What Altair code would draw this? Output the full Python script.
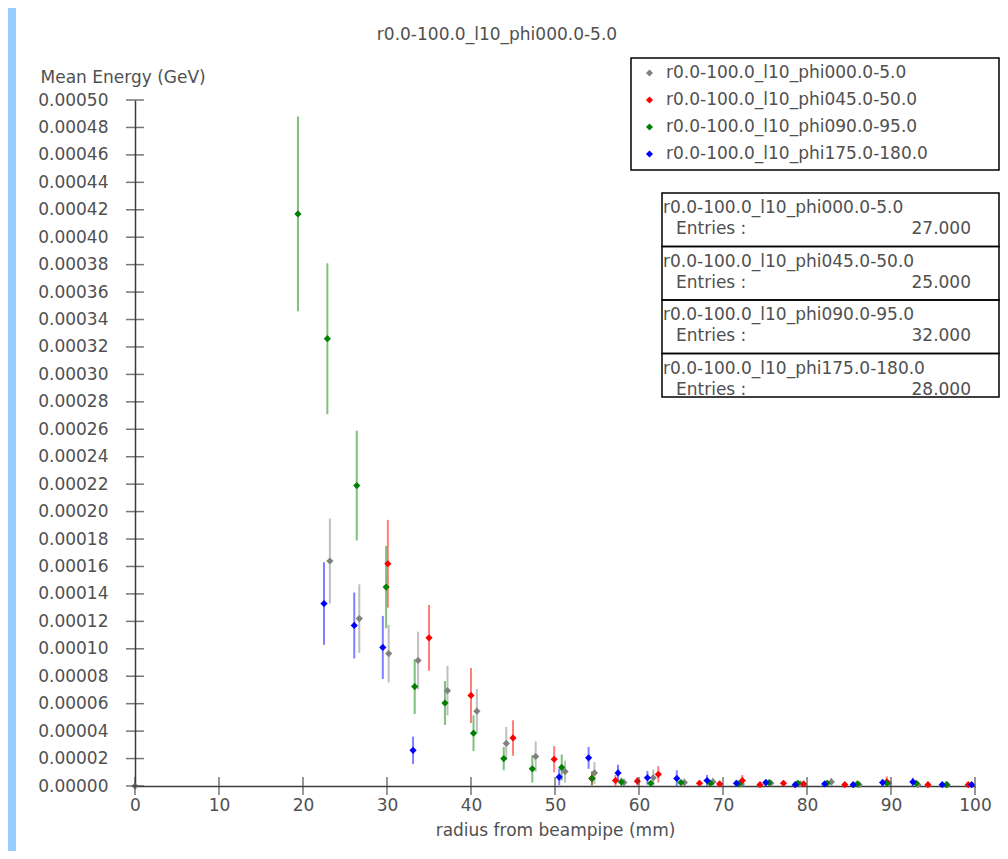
import altair as alt
import pandas as pd

# ---------------- data ----------------
series_names = [
    "r0.0-100.0_l10_phi000.0-5.0",
    "r0.0-100.0_l10_phi045.0-50.0",
    "r0.0-100.0_l10_phi090.0-95.0",
    "r0.0-100.0_l10_phi175.0-180.0",
]
series_colors = ["#808080", "#ff0000", "#008000", "#0000ff"]
entries = [27.0, 25.0, 32.0, 28.0]
chart_title = "r0.0-100.0_l10_phi000.0-5.0"
x_title = "radius from beampipe (mm)"
y_title = "Mean Energy (GeV)"

gray_r = [0.0, 23.2, 26.7, 30.2, 33.7, 37.2, 40.7, 44.2, 47.7, 51.2, 54.7, 58.2, 61.7,
          65.4, 68.8, 72.2, 75.7, 79.2, 82.9, 86.2, 89.7, 93.2, 96.7]
gray_mean = [0.0, 0.000164, 0.000122, 0.0000965, 0.0000915, 0.0000695, 0.0000545, 0.000031,
             0.0000215, 0.0000105, 0.0000095, 0.0000025, 0.0000060, 0.0000025, 0.000003,
             0.0000015, 0.000002, 0.0000015, 0.000003, 0.000001, 0.000002, 0.000001, 0.000001]
gray_err = [0.0, 0.000031, 0.000025, 0.000021, 0.000021, 0.000018, 0.000016, 0.000012,
            0.000011, 0.000008, 0.000008, 0.000003, 0.000006, 0.000003, 0.000003,
            0.000002, 0.000002, 0.000002, 0.000003, 0.000001, 0.000002, 0.000001, 0.000001]

red_r = [30.1, 35.0, 40.0, 45.0, 49.9, 54.4, 57.2, 59.8, 62.3, 67.2, 69.6, 72.3, 74.4,
         77.2, 79.6, 84.5, 89.5, 94.4, 99.2]
red_mean = [0.000162, 0.000108, 0.000066, 0.000035, 0.0000195, 0.0000055, 0.000004,
            0.0000035, 0.0000085, 0.000002, 0.0000015, 0.000004, 0.000001, 0.000002,
            0.0000015, 0.000001, 0.000003, 0.000001, 0.000001]
red_err = [0.000032, 0.000024, 0.00002, 0.000013, 0.0000095, 0.000005, 0.000004,
           0.000003, 0.000006, 0.000002, 0.0000015, 0.000004, 0.000001, 0.000002,
           0.0000015, 0.000001, 0.000004, 0.000001, 0.000001]

green_r = [19.4, 22.9, 26.4, 29.9, 33.3, 36.9, 40.3, 43.9, 47.3, 50.8, 54.4, 57.9, 61.4,
           65.0, 68.5, 71.9, 75.5, 78.9, 82.4, 86.0, 89.5, 93.0, 96.6]
green_mean = [0.000417, 0.000326, 0.000219, 0.000145, 0.0000725, 0.0000605, 0.0000385,
              0.000020, 0.0000125, 0.0000135, 0.0000055, 0.000003, 0.000002, 0.0000025,
              0.000002, 0.0000015, 0.0000025, 0.000002, 0.000002, 0.0000015, 0.000002,
              0.000002, 0.000001]
green_err = [0.000071, 0.000055, 0.00004, 0.00003, 0.00002, 0.000016, 0.000013,
             0.0000085, 0.00001, 0.0000095, 0.000005, 0.000003, 0.000002, 0.000002,
             0.000002, 0.0000015, 0.000002, 0.000002, 0.000002, 0.0000015, 0.000002,
             0.000002, 0.000001]

blue_r = [22.5, 26.1, 29.5, 33.1, 50.5, 54.0, 57.5, 61.0, 64.5, 68.1, 71.6, 75.1, 78.6,
          82.1, 85.5, 89.0, 92.6, 96.1, 99.6]
blue_mean = [0.000133, 0.000117, 0.000101, 0.000026, 0.0000065, 0.0000205, 0.0000095,
             0.000006, 0.0000055, 0.000004, 0.000002, 0.0000025, 0.000001, 0.0000015,
             0.000001, 0.0000025, 0.000003, 0.000001, 0.000001]
blue_err = [0.00003, 0.000024, 0.000023, 0.00001, 0.000006, 0.000008, 0.000006,
            0.000005, 0.000006, 0.000004, 0.000002, 0.0000025, 0.000001, 0.0000015,
            0.000001, 0.0000025, 0.000003, 0.000001, 0.000001]

x_tick_values = [0, 10, 20, 30, 40, 50, 60, 70, 80, 90, 100]
y_tick_values = [0.0, 0.00002, 0.00004, 0.00006, 0.00008, 0.00010, 0.00012, 0.00014,
                 0.00016, 0.00018, 0.00020, 0.00022, 0.00024, 0.00026, 0.00028, 0.00030,
                 0.00032, 0.00034, 0.00036, 0.00038, 0.00040, 0.00042, 0.00044, 0.00046,
                 0.00048, 0.00050]

# ---------------- table ----------------
rows = []
for name, rs, ms, es in zip(series_names,
                            [gray_r, red_r, green_r, blue_r],
                            [gray_mean, red_mean, green_mean, blue_mean],
                            [gray_err, red_err, green_err, blue_err]):
    for r, m, e in zip(rs, ms, es):
        rows.append({"series": name, "r": r, "mean": m,
                     "lo": max(0.0, m - e), "hi": m + e})
df = pd.DataFrame(rows)

TXT = "#505050"
AX = "#3c3c3c"
FS = 17
W, H = 840, 686

color_scale = alt.Scale(domain=series_names, range=series_colors)
x_scale = alt.Scale(domain=[0, 100], nice=False, zero=False)
y_scale = alt.Scale(domain=[0, 0.0005], nice=False)

x_axis = alt.Axis(values=x_tick_values, title=x_title,
                  grid=False, ticks=False, tickSize=0, labelPadding=11,
                  labelFlush=False, labelOverlap=False,
                  labelFontSize=FS, labelColor=TXT, labelFont="DejaVu Sans",
                  domainColor=AX, domainWidth=1.5,
                  titleFontSize=FS, titleColor=TXT, titleFontWeight="normal",
                  titleFont="DejaVu Sans", titleBaseline="alphabetic",
                  titleY=49, titleX=W / 2)
y_axis = alt.Axis(values=y_tick_values, format=".5f", title=y_title,
                  grid=False, ticks=False, tickSize=0, labelPadding=27,
                  labelFlush=False, labelOverlap=False,
                  labelFontSize=FS, labelColor=TXT, labelFont="DejaVu Sans",
                  domainColor=AX, domainWidth=1.5,
                  titleAngle=0, titleAlign="left", titleBaseline="alphabetic",
                  titleX=-95, titleY=-18, titleFontSize=FS, titleColor=TXT,
                  titleFontWeight="normal", titleFont="DejaVu Sans")
legend = alt.Legend(orient="none", legendX=496, legendY=-42, title=None,
                    padding=6.5, symbolOffset=3.5, labelOffset=8,
                    rowPadding=9, symbolType="diamond", symbolSize=50,
                    symbolStrokeWidth=0, symbolOpacity=1,
                    labelFontSize=FS, labelColor=TXT, labelFont="DejaVu Sans",
                    labelLimit=600)

one = alt.Data(values=[{"k": 0}])

# legend frame (drawn beneath the legend entries)
legend_box = alt.Chart(one).mark_rect(
    fill="white", stroke="black", strokeWidth=1.5
).encode(x=alt.value(496), x2=alt.value(864), y=alt.value(-42), y2=alt.value(70))

errbars = alt.Chart(df).mark_rule(strokeWidth=2, opacity=0.5).encode(
    x=alt.X("r:Q", scale=x_scale, axis=x_axis),
    y=alt.Y("lo:Q", scale=y_scale, axis=y_axis),
    y2="hi:Q",
    color=alt.Color("series:N", scale=color_scale, legend=legend),
)

points = alt.Chart(df).mark_point(shape="diamond", filled=True, size=52, opacity=1).encode(
    x=alt.X("r:Q", scale=x_scale, axis=x_axis),
    y=alt.Y("mean:Q", scale=y_scale, axis=y_axis),
    color=alt.Color("series:N", scale=color_scale, legend=legend),
)

ytick_df = pd.DataFrame({"tv": y_tick_values})
xtick_df = pd.DataFrame({"tv": x_tick_values})

yticks = alt.Chart(ytick_df).mark_tick(orient="horizontal", size=18, thickness=1.5,
                                       color=AX).encode(
    y=alt.Y("tv:Q", scale=y_scale, axis=y_axis),
    x=alt.value(0),
)
xticks = alt.Chart(xtick_df).mark_tick(orient="vertical", size=18, thickness=1.5,
                                       color=AX).encode(
    x=alt.X("tv:Q", scale=x_scale, axis=x_axis),
    y=alt.value(H),
)

title_txt = alt.Chart(one).mark_text(fontSize=FS, color=TXT, font="DejaVu Sans",
                                     align="center", baseline="alphabetic").encode(
    x=alt.value(362), y=alt.value(-60), text=alt.value(chart_title))

strip = alt.Chart(one).mark_rect(color="#99ccff").encode(
    x=alt.value(-127), x2=alt.value(-119), y=alt.value(-92), y2=alt.value(H + 65))

# stats box
stat_layers = []
sec_top0 = 93
sec_h = 53.5
box_bottom = 297
for i, (name, n) in enumerate(zip(series_names, entries)):
    top = sec_top0 + i * sec_h
    bottom = top + sec_h if i < len(series_names) - 1 else box_bottom
    stat_layers.append(alt.Chart(one).mark_text(
        fontSize=FS, color=TXT, font="DejaVu Sans", align="left", baseline="alphabetic"
    ).encode(x=alt.value(528), y=alt.value(top + 20), text=alt.value(name)))
    stat_layers.append(alt.Chart(one).mark_text(
        fontSize=FS, color=TXT, font="DejaVu Sans", align="left", baseline="alphabetic"
    ).encode(x=alt.value(541), y=alt.value(top + 41), text=alt.value("Entries :")))
    stat_layers.append(alt.Chart(one).mark_text(
        fontSize=FS, color=TXT, font="DejaVu Sans", align="right", baseline="alphabetic"
    ).encode(x=alt.value(836), y=alt.value(top + 41), text=alt.value(f"{n:.3f}")))
    stat_layers.append(alt.Chart(one).mark_rect(
        fill="white", fillOpacity=0, stroke="black", strokeWidth=1.5
    ).encode(x=alt.value(527), x2=alt.value(864), y=alt.value(top), y2=alt.value(bottom)))

chart = alt.layer(
    strip, legend_box, errbars, points, yticks, xticks, title_txt, *stat_layers
).properties(
    width=W, height=H,
    autosize=alt.AutoSizeParams(type="none"),
    padding={"left": 127, "top": 92, "right": 25, "bottom": 65},
).configure(font="DejaVu Sans", background="white").configure_view(strokeWidth=0)

chart.save("out.html", embed_options={"renderer": "svg", "actions": False})
